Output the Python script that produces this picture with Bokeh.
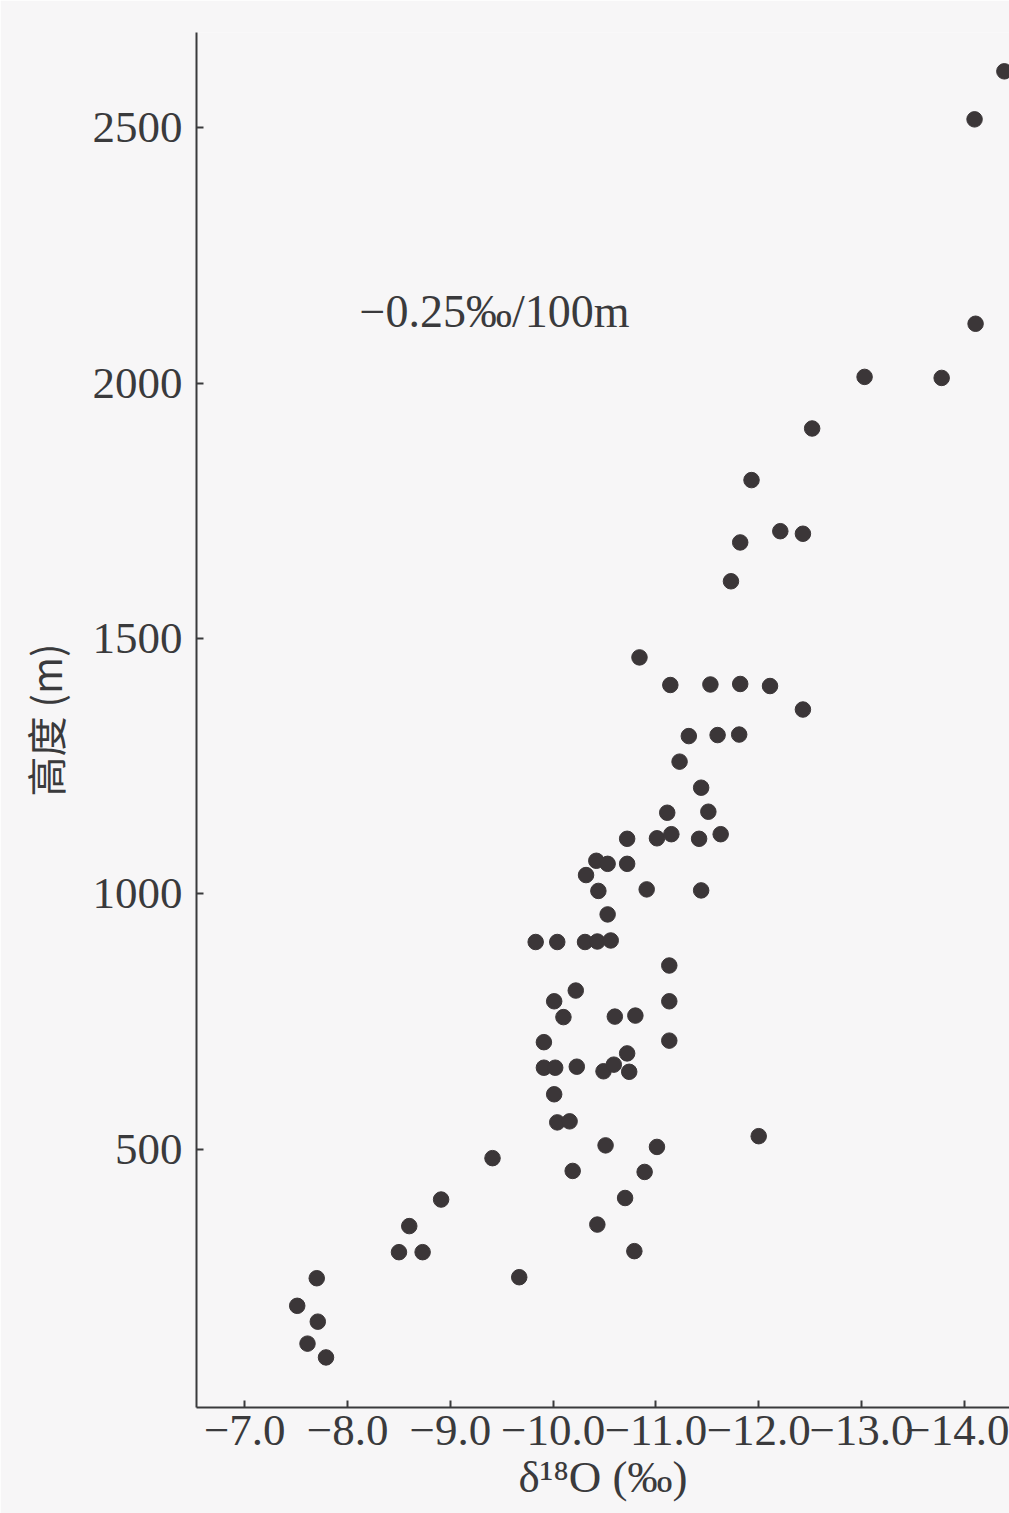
from bokeh.plotting import figure
from bokeh.models import Range1d, FixedTicker, Label
from bokeh.embed import file_html
from bokeh.resources import INLINE

# δ18O (‰) values and altitudes (m)
d18o = [-14.39, -14.10, -14.11, -13.03, -13.78, -12.52, -11.93, -12.21, -12.43, -11.82,
        -11.73, -10.84, -11.14, -11.53, -11.82, -12.11, -12.43, -11.32, -11.60, -11.81,
        -11.23, -11.44, -11.11, -11.51, -10.72, -11.01, -11.15, -11.42, -11.63, -10.42,
        -10.53, -10.72, -10.32, -10.44, -10.91, -11.44, -10.53, -9.83, -10.04, -10.31,
        -10.43, -10.56, -11.13, -10.22, -10.01, -10.10, -10.60, -10.80, -11.13, -9.91,
        -11.13, -9.91, -10.02, -10.23, -10.49, -10.59, -10.72, -10.74, -10.01, -10.04,
        -10.16, -10.51, -11.01, -12.00, -9.41, -10.19, -10.89, -8.91, -10.70, -8.60,
        -10.43, -8.50, -8.73, -10.79, -9.67, -7.70, -7.51, -7.71, -7.61, -7.79]
altitude = [2610, 2516, 2116, 2012, 2010, 1911, 1810, 1710, 1705, 1688,
            1612, 1463, 1409, 1410, 1411, 1407, 1361, 1309, 1311, 1312,
            1259, 1208, 1159, 1161, 1108, 1109, 1117, 1108, 1117, 1065,
            1059, 1059, 1037, 1006, 1009, 1007, 960, 906, 906, 906,
            907, 909, 860, 811, 790, 759, 760, 762, 790, 710,
            713, 660, 660, 662, 653, 666, 688, 652, 608, 553,
            555, 508, 505, 526, 483, 458, 456, 402, 405, 350,
            353, 299, 299, 301, 250, 248, 194, 163, 120, 93]

x_ticks = [-7, -8, -9, -10, -11, -12, -13, -14]
x_tick_labels = ["−7.0", "−8.0", "−9.0", "−10.0", "−11.0", "−12.0", "−13.0", "−14.0"]
y_ticks = [500, 1000, 1500, 2000, 2500]
annotation_text = "−0.25‰/100m"
x_title = "δ¹⁸O (‰)"
y_title = "高度 (m)"

bg = "#f7f6f7"
ink = "#3a3a3c"
dot = "#3b3638"
serif = "Liberation Serif"

p = figure(width=1009, height=1513, output_backend="svg", toolbar_location=None,
           x_range=Range1d(-6.53, -14.44), y_range=Range1d(-5, 2686),
           min_border_left=196, min_border_right=0, min_border_top=32,
           min_border_bottom=106)
p.background_fill_color = bg
p.border_fill_color = bg
p.outline_line_color = None
p.grid.grid_line_color = None

p.scatter(d18o, altitude, size=15.5, color=dot, line_color=dot)

for ax in (p.xaxis[0], p.yaxis[0]):
    ax.axis_line_color = ink
    ax.axis_line_width = 2
    ax.major_tick_line_color = ink
    ax.major_tick_line_width = 2
    ax.major_tick_in = 7
    ax.major_tick_out = 0
    ax.minor_tick_line_color = None
    ax.major_label_text_font = serif
    ax.major_label_text_color = ink
    ax.major_label_text_font_size = "45px"
    ax.axis_label_text_color = ink
    ax.axis_label_text_font_style = "normal"

p.xaxis.ticker = FixedTicker(ticks=x_ticks)
p.xaxis.major_label_overrides = dict(zip(x_ticks, x_tick_labels))
p.xaxis.major_label_standoff = 8
p.xaxis.axis_label = x_title
p.xaxis.axis_label_text_font = serif
p.xaxis.axis_label_text_font_size = "45px"
p.xaxis.axis_label_standoff = 4

p.yaxis.ticker = FixedTicker(ticks=y_ticks)
p.yaxis.major_label_standoff = 14
p.yaxis.axis_label = y_title
p.yaxis.axis_label_text_font = "Noto Sans CJK SC"
p.yaxis.axis_label_text_font_size = "40px"
p.yaxis.axis_label_standoff = 16

p.add_layout(Label(x=-9.43, y=2140, text=annotation_text, text_align="center",
                   text_baseline="middle", text_font=serif, text_font_size="46px",
                   text_color=ink))

open("out.html", "w").write(file_html(p, INLINE))
